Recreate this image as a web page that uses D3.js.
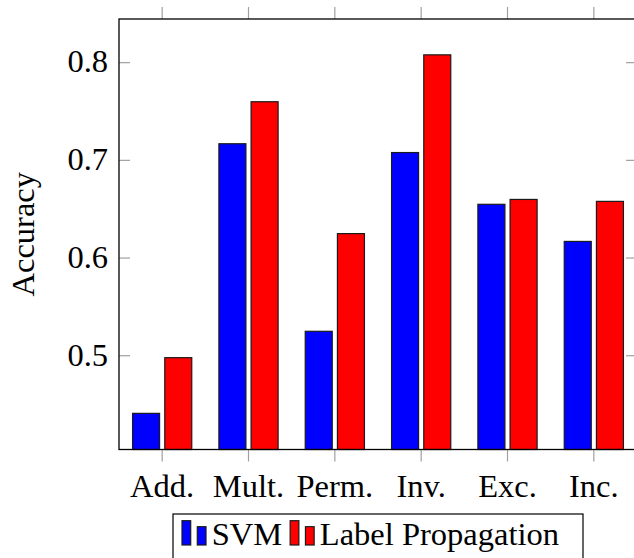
<!DOCTYPE html>
<html>
<head>
<meta charset="utf-8">
<script src="https://cdn.jsdelivr.net/npm/d3@7/dist/d3.min.js"></script>
<style>
  html, body { margin: 0; padding: 0; background: #fff; }
  svg { display: block; }
</style>
</head>
<body>
<svg id="chart" width="634" height="558"></svg>
<script>
// data
var categories = ['Add.', 'Mult.', 'Perm.', 'Inv.', 'Exc.', 'Inc.'];
var seriesNames = ['SVM', 'Label Propagation'];
var svmValues = [0.441, 0.717, 0.525, 0.708, 0.655, 0.617];
var lpValues = [0.498, 0.760, 0.625, 0.808, 0.660, 0.658];
var yTicks = [0.5, 0.6, 0.7, 0.8];
var yTickLabels = ['0.5', '0.6', '0.7', '0.8'];
var seriesColors = ['#0000ff', '#ff0000'];

var svg = d3.select('#chart'),
    plot = { left: 119, right: 637, top: 19, bottom: 449.5 },
    fontFamily = "'Liberation Serif', 'DejaVu Serif', serif",
    fontSize = 32.5,
    tickColor = '#a0a0a0';

svg.attr('font-family', fontFamily).attr('font-size', fontSize);

var x = d3.scaleBand().domain(categories).range([plot.left, plot.right]).padding(0);
var xInner = d3.scaleBand().domain(seriesNames).range([-29.6, 29.6]).paddingInner(0.161);
var y = d3.scaleLinear().domain([0.404, 0.8447]).range([plot.bottom, plot.top]);

var rows = categories.map(function (c, i) {
  return { cat: c, values: [svmValues[i], lpValues[i]] };
});

// bars
var groups = svg.append('g').selectAll('g').data(rows).enter().append('g')
  .attr('transform', function (d) { return 'translate(' + (x(d.cat) + x.bandwidth() / 2) + ',0)'; });

groups.selectAll('rect')
  .data(function (d) { return d.values.map(function (v, k) { return { s: seriesNames[k], v: v, k: k }; }); })
  .enter().append('rect')
  .attr('x', function (d) { return xInner(d.s); })
  .attr('width', xInner.bandwidth())
  .attr('y', function (d) { return y(d.v); })
  .attr('height', function (d) { return y.range()[0] - y(d.v); })
  .attr('fill', function (d) { return seriesColors[d.k]; })
  .attr('stroke', '#1a1a1a')
  .attr('stroke-width', 1.2);

// ticks
var ticks = svg.append('g').attr('stroke', tickColor).attr('stroke-width', 1.2);
categories.forEach(function (c) {
  var cx = x(c) + x.bandwidth() / 2;
  ticks.append('line').attr('x1', cx).attr('x2', cx).attr('y1', plot.top).attr('y2', plot.top - 12);
  ticks.append('line').attr('x1', cx).attr('x2', cx).attr('y1', plot.bottom).attr('y2', plot.bottom + 12);
});
yTicks.forEach(function (t) {
  ticks.append('line').attr('x1', plot.left).attr('x2', plot.left + 11).attr('y1', y(t)).attr('y2', y(t));
  ticks.append('line').attr('x1', plot.right).attr('x2', plot.right - 11).attr('y1', y(t)).attr('y2', y(t));
});

// frame
svg.append('rect')
  .attr('x', plot.left).attr('y', plot.top)
  .attr('width', plot.right - plot.left).attr('height', plot.bottom - plot.top)
  .attr('fill', 'none').attr('stroke', '#000').attr('stroke-width', 1.3);

// tick labels
svg.append('g').selectAll('text').data(yTicks).enter().append('text')
  .attr('x', 108).attr('y', function (d) { return y(d) + 9.8; })
  .attr('text-anchor', 'end')
  .text(function (d, i) { return yTickLabels[i]; });

svg.append('g').selectAll('text').data(categories).enter().append('text')
  .attr('x', function (d) { return x(d) + x.bandwidth() / 2; })
  .attr('y', 497)
  .attr('text-anchor', 'middle')
  .text(function (d) { return d; });

svg.append('text')
  .attr('transform', 'translate(33.5,' + (plot.top + plot.bottom) / 2 + ') rotate(-90)')
  .attr('text-anchor', 'middle')
  .text('Accuracy');

// legend
var legend = svg.append('g').attr('transform', 'translate(173,514)');
legend.append('rect').attr('width', 410).attr('height', 60)
  .attr('fill', '#fff').attr('stroke', '#000').attr('stroke-width', 1.2);

var legendX = 9;
seriesNames.forEach(function (name, k) {
  var item = legend.append('g').attr('transform', 'translate(' + legendX + ',0)');
  item.append('rect').attr('x', 0).attr('y', 6.7).attr('width', 8.7).attr('height', 24.3)
    .attr('fill', seriesColors[k]).attr('stroke', '#1a1a1a').attr('stroke-width', 1.2);
  item.append('rect').attr('x', 15.3).attr('y', 12.7).attr('width', 8.7).attr('height', 18.3)
    .attr('fill', seriesColors[k]).attr('stroke', '#1a1a1a').attr('stroke-width', 1.2);
  var t = item.append('text').attr('x', 29.7).attr('y', 31).text(name);
  legendX += 29.7 + t.node().getComputedTextLength() + 8;
});
</script>
</body>
</html>
